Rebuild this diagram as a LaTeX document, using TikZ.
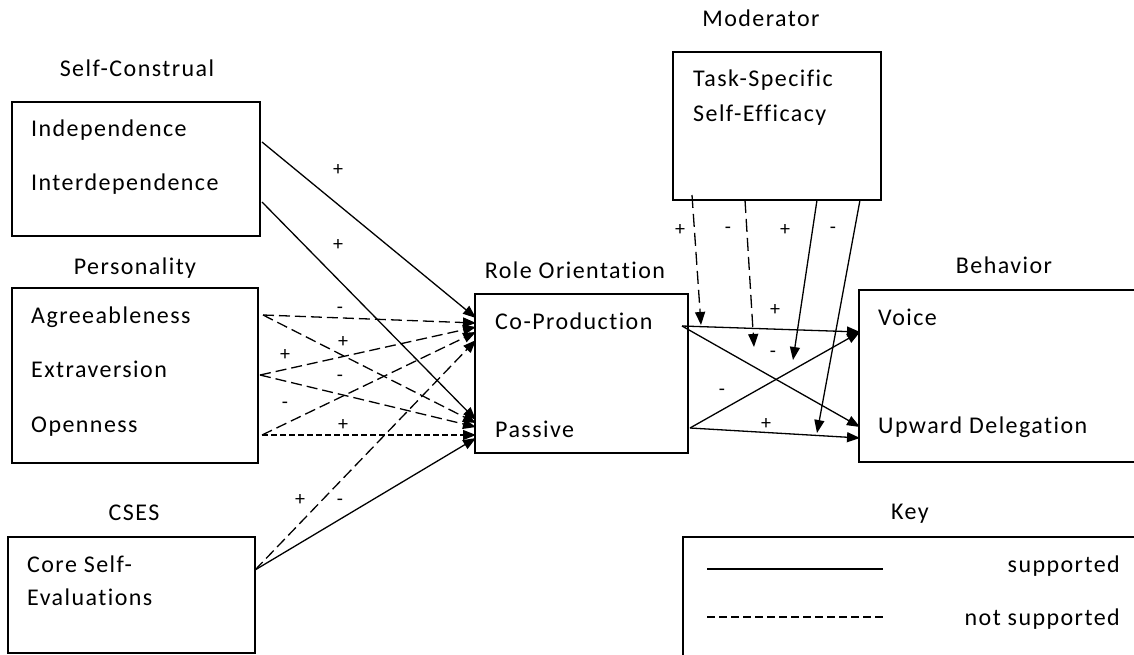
\documentclass[tikz,border=0pt]{standalone}
\usepackage{fontspec}
\setmainfont{Carlito}[LetterSpace=6, Ligatures=NoCommon]
\usetikzlibrary{arrows.meta}
\begin{document}
\begin{tikzpicture}[x=1pt,y=-1pt,
  box/.style={draw, line width=1.3pt, anchor=north west, inner sep=0pt, outer sep=0pt},
  txt/.style={anchor=base west, inner sep=0pt, font=\fontsize{24}{28}\selectfont},
  lbl/.style={anchor=base, inner sep=0pt, font=\fontsize{24}{28}\selectfont},
  rtxt/.style={anchor=base east, inner sep=0pt, font=\fontsize{24}{28}\selectfont},
  sgn/.style={inner sep=0pt, font=\fontsize{20}{24}\selectfont},
  arr/.style={-{Triangle[length=13pt,width=10pt]}, line width=1.3pt},
  dl/.style={arr, dash pattern=on 11pt off 5pt},
  ds/.style={arr, dash pattern=on 6pt off 3pt},
]
\useasboundingbox (0,0) rectangle (1134,655);

% boxes
\node[box, minimum width=248pt, minimum height=134pt] (sc) at (12,102) {};
\node[box, minimum width=246pt, minimum height=175pt] (pers) at (12,288) {};
\node[box, minimum width=247pt, minimum height=116pt] (cses) at (8,537) {};
\node[box, minimum width=213pt, minimum height=159pt] (role) at (475,294) {};
\node[box, minimum width=301pt, minimum height=172pt] (beh) at (859,290) {};
\node[box, minimum width=208pt, minimum height=148pt] (mod) at (673,52) {};
\node[box, minimum width=477pt, minimum height=143pt] (key) at (683,537) {};

% labels
\node[lbl] (lsc) at (137,77) {Self-Construal};
\node[lbl] (lpers) at (135,274) {Personality};
\node[lbl] (lcses) at (134,520) {CSES};
\node[lbl] (lrole) at (575,278) {Role Orientation};
\node[lbl] (lbeh) at (1004,273) {Behavior};
\node[lbl] (lmod) at (761,27) {Moderator};
\node[lbl] (lkey) at (910,519) {Key};

% box texts
\node[txt] (indep) at (31,137) {Independence};
\node[txt] (inter) at (31,190) {Interdependence};
\node[txt] (agree) at (31,323) {Agreeableness};
\node[txt] (extra) at (31,377) {Extraversion};
\node[txt] (open) at (31,432) {Openness};
\node[txt] (core1) at (27,572) {Core Self-};
\node[txt] (core2) at (27,605) {Evaluations};
\node[txt] (cop) at (495,329) {Co-Production};
\node[txt] (pas) at (495,437) {Passive};
\node[txt] (voice) at (878,325) {Voice};
\node[txt] (upd) at (878,433) {Upward Delegation};
\node[txt] (tss1) at (693,87) {Task-Specific};
\node[txt] (tss2) at (693,122) {Self-Efficacy};
\node[rtxt] (ksup) at (1120,572) {supported};
\node[rtxt] (knsup) at (1120,625) {not supported};

% key lines
\coordinate (k1a) at (707,569); \coordinate (k1b) at (883,569);
\coordinate (k2a) at (707,617); \coordinate (k2b) at (883,617);
\draw[line width=1.3pt] (k1a) -- (k1b);
\draw[line width=1.3pt, dash pattern=on 8pt off 4pt] (k2a) -- (k2b);

% ports
\coordinate (iO) at (262,142);
\coordinate (dO) at (262,202);
\coordinate (aO) at (263,315);
\coordinate (eO) at (260,375);
\coordinate (oO) at (262,435);
\coordinate (cO) at (255,570);
\coordinate (coI1) at (476,318);
\coordinate (coI2) at (476,323);
\coordinate (coI3) at (476,327);
\coordinate (coI4) at (476,332);
\coordinate (coI5) at (476,340);
\coordinate (paI1) at (476,420);
\coordinate (paI2) at (476,423);
\coordinate (paI3) at (476,427);
\coordinate (paI4) at (476,435);
\coordinate (paI5) at (476,438);

% predictors -> role orientation
\draw[arr] (iO) -- (coI1);
\draw[arr] (dO) -- (paI1);
\draw[dl] (aO) -- (coI2);
\draw[dl] (aO) -- (paI2);
\draw[dl] (eO) -- (coI3);
\draw[dl] (eO) -- (paI3);
\draw[dl] (oO) -- (coI4);
\draw[ds] (oO) -- (paI4);
\draw[dl] (cO) -- (coI5);
\draw[arr] (cO) -- (paI5);

% role -> behavior
\coordinate (coO) at (682,326);
\coordinate (paO) at (690,428);
\coordinate (vI) at (860,332);
\coordinate (udI1) at (860,427);
\coordinate (udI2) at (860,438);
\draw[arr] (coO) -- (vI);
\draw[arr] (coO) -- (udI1);
\draw[arr] (paO) -- (vI);
\draw[arr] (paO) -- (udI2);

% moderator
\coordinate (m1s) at (692,195); \coordinate (m1e) at (701,325);
\coordinate (m2s) at (745,200); \coordinate (m2e) at (754,347);
\coordinate (m3s) at (817,200); \coordinate (m3e) at (793,360);
\coordinate (m4s) at (860,200); \coordinate (m4e) at (817,433);
\draw[arr, dash pattern=on 13pt off 6pt] (m1s) -- (m1e);
\draw[arr, dash pattern=on 13pt off 6pt] (m2s) -- (m2e);
\draw[arr] (m3s) -- (m3e);
\draw[arr] (m4s) -- (m4e);

% signs
\node[sgn] (s1) at (338,170) {+};
\node[sgn] (s2) at (338,245) {+};
\node[sgn] (s3) at (340,310) {-};
\node[sgn] (s4) at (343,342) {+};
\node[sgn] (s5) at (285,355) {+};
\node[sgn] (s6) at (340,378) {-};
\node[sgn] (s7) at (285,405) {-};
\node[sgn] (s8) at (343,425) {+};
\node[sgn] (s9) at (300,500) {+};
\node[sgn] (s10) at (340,502) {-};
\node[sgn] (s11) at (680,230) {+};
\node[sgn] (s12) at (728,230) {-};
\node[sgn] (s13) at (785,230) {+};
\node[sgn] (s14) at (833,230) {-};
\node[sgn] (s15) at (775,310) {+};
\node[sgn] (s16) at (773,354) {-};
\node[sgn] (s17) at (722,392) {-};
\node[sgn] (s18) at (766,424) {+};
\end{tikzpicture}
\end{document}
